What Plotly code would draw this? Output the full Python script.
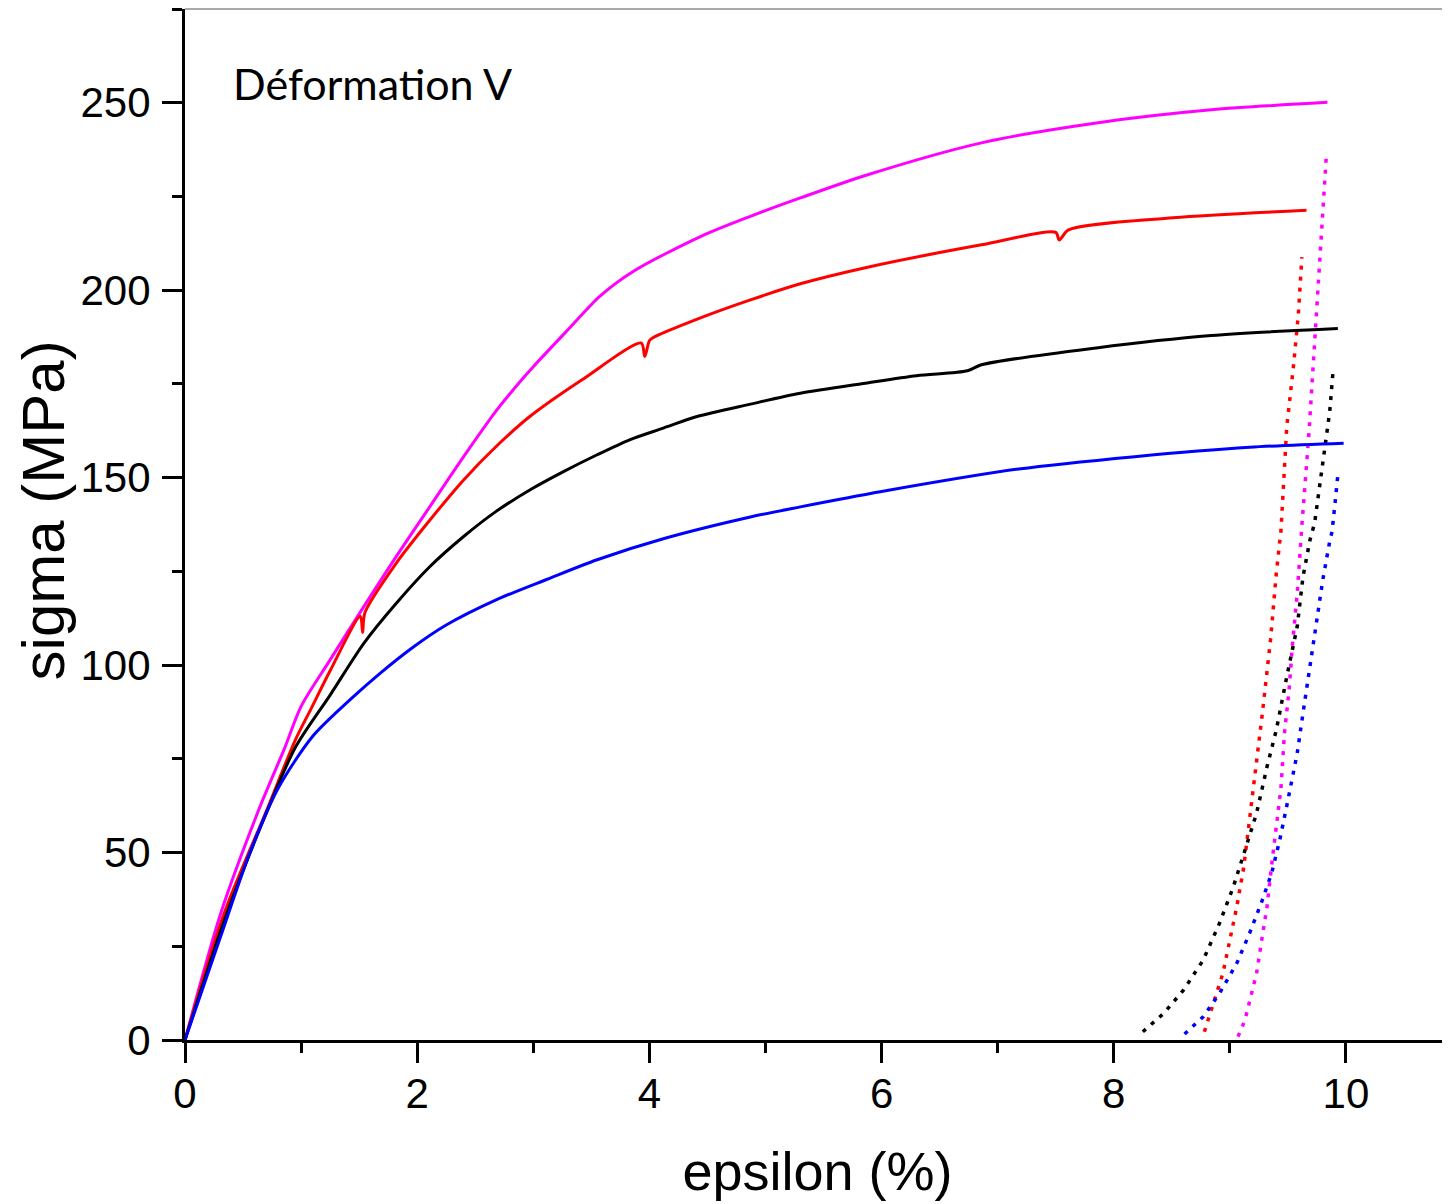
import plotly.graph_objects as go

# loading curves (epsilon %, sigma MPa)
eps_magenta = [0, 0.31, 0.63, 0.86, 1.0, 1.25, 1.54, 1.82, 2.11, 2.40, 2.68, 2.90, 3.0, 3.3,
               3.57, 3.86, 4.44, 4.87, 5.3, 5.86, 6.86, 7.85, 8.84, 9.84]
sig_magenta = [0, 34, 61, 78, 89, 101.4, 115.6, 129, 142.3, 155.6, 167.8, 176.1, 179.6, 189.5,
               198.3, 205.0, 214.3, 219.7, 224.6, 230.6, 239.3, 244.6, 248.1, 250.1]

eps_red = [0, 0.34, 0.70, 0.95, 1.08, 1.25, 1.51, 1.53, 1.55, 1.82, 2.11, 2.40, 2.68, 2.97,
           3.42, 3.93, 3.96, 4.0, 4.03, 4.44, 4.87, 5.30, 5.86, 6.86, 7.50, 7.53, 7.61, 8.51, 9.66]
sig_red = [0, 34, 61, 80, 88, 98.5, 113, 108.7, 114, 127.2, 138.7, 149.4, 158.3, 166.3,
           176.1, 185.9, 182.3, 186.5, 187.3, 192.6, 197.4, 201.7, 206, 212.1, 215.4, 213.4, 216.1, 219.3, 221.3]

eps_black = [0, 0.34, 0.68, 0.95, 1.25, 1.54, 1.82, 2.11, 2.40, 2.68, 2.97, 3.26, 3.55, 3.83,
             4.12, 4.41, 4.87, 5.30, 5.86, 6.3, 6.74, 6.86, 7.85, 8.84, 9.93]
sig_black = [0, 32, 59, 78, 92, 105.8, 116.5, 126.3, 134.3, 141, 146.7, 151.6, 156.1, 160.1,
             163.2, 166.3, 169.6, 172.5, 175.2, 177.2, 178.5, 180.1, 184.6, 187.9, 189.8]

eps_blue = [0, 0.3, 0.56, 0.8, 1.1, 1.42, 1.68, 1.97, 2.25, 2.68, 3.12, 3.55, 4.12, 4.87,
            5.30, 6.0, 7.18, 8.18, 9.17, 9.98]
sig_blue = [0, 27, 50, 67, 81, 90.7, 97.8, 104.9, 110.7, 117.4, 122.9, 128.1, 133.7, 139.5,
            142.2, 146.3, 152.3, 155.6, 158.1, 159.2]

# unloading curves (dotted)
eps_magenta_u = [9.07, 9.13, 9.18, 9.23, 9.27, 9.32, 9.36, 9.40, 9.44, 9.47, 9.51, 9.54, 9.58,
                 9.61, 9.62, 9.68, 9.73, 9.78, 9.83]
sig_magenta_u = [0.9, 5.3, 11.6, 17.8, 25.8, 35.6, 46.7, 56.9, 67.2, 81.8, 93.4, 105.8, 119.2,
                 132.5, 137.2, 161.4, 186.6, 213.2, 235.5]

eps_red_u = [8.78, 8.86, 8.94, 9.0, 9.06, 9.12, 9.17, 9.23, 9.28, 9.35, 9.40, 9.44, 9.49, 9.55,
             9.59, 9.62]
sig_red_u = [2.2, 9.8, 17.8, 26.7, 35.6, 46.2, 58.7, 74.7, 87.2, 106.7, 124.5, 135.9, 163.6,
             180.4, 193.7, 208.8]

eps_black_u = [8.25, 8.43, 8.60, 8.77, 8.91, 9.03, 9.14, 9.23, 9.32, 9.40, 9.49, 9.58, 9.63,
               9.69, 9.73, 9.76, 9.79, 9.82, 9.86, 9.89]
sig_black_u = [2.2, 7.1, 13.3, 21.3, 31.1, 40.9, 51.6, 60.5, 72.9, 82.7, 96.9, 110.3, 123.6,
               133.4, 137.9, 145, 152.1, 159.6, 167.6, 179.0]

eps_blue_u = [8.61, 8.77, 8.91, 9.06, 9.17, 9.27, 9.36, 9.43, 9.50, 9.58, 9.63, 9.69, 9.75,
              9.80, 9.86, 9.88, 9.91, 9.93]
sig_blue_u = [1.6, 6.2, 12.4, 20.5, 28.5, 36.5, 44.5, 53.4, 64, 76.5, 87.2, 99.6, 112.1,
              122.7, 133, 135.6, 144.5, 150.7]

series = [
    ('#FF00FF', eps_magenta, sig_magenta, eps_magenta_u, sig_magenta_u),
    ('#FF0000', eps_red, sig_red, eps_red_u, sig_red_u),
    ('#000000', eps_black, sig_black, eps_black_u, sig_black_u),
    ('#0000FF', eps_blue, sig_blue, eps_blue_u, sig_blue_u),
]

fig = go.Figure()
for color, ex, sy, eu, su in series:
    fig.add_trace(go.Scatter(x=ex, y=sy, mode='lines',
                             line=dict(color=color, width=3, shape='spline', smoothing=0.8),
                             showlegend=False))
    fig.add_trace(go.Scatter(x=eu, y=su, mode='lines',
                             line=dict(color=color, width=3.5, dash='4px,7px'),
                             showlegend=False))

font_family = 'Liberation Sans, Arial, sans-serif'
tick_font = dict(family=font_family, size=42, color='black')

# page body has an 8px margin, so the figure is sized to fill the rest of the window
fig.update_layout(
    width=1442, height=1196,
    margin=dict(l=177, r=0, t=1, b=164),
    plot_bgcolor='white', paper_bgcolor='white',
    xaxis=dict(
        range=[0, 10.896], showgrid=False, zeroline=False, automargin=False,
        showline=True, linecolor='black', linewidth=3,
        ticks='outside', ticklen=20, tickwidth=3, tickcolor='black',
        dtick=2, tick0=0, tickfont=tick_font, ticklabelstandoff=-5,
        minor=dict(ticks='outside', ticklen=10, tickwidth=3, tickcolor='black', dtick=1),
        title=dict(text='epsilon (%)', font=dict(family=font_family, size=54, color='black'),
                   standoff=36),
    ),
    yaxis=dict(
        range=[0, 275], showgrid=False, zeroline=False, automargin=False,
        showline=True, linecolor='black', linewidth=3,
        ticks='outside', ticklen=20, tickwidth=3, tickcolor='black',
        dtick=50, tick0=0, tickfont=tick_font, ticklabelstandoff=3,
        minor=dict(ticks='outside', ticklen=10, tickwidth=3, tickcolor='black', dtick=25),
    ),
    shapes=[dict(type='line', xref='paper', yref='paper', x0=0, x1=1, y0=1, y1=1,
                 line=dict(color='#555555', width=1))],
    annotations=[
        dict(text='Déformation V', xref='paper', yref='paper', x=0.036, y=0.928,
             xanchor='left', yanchor='middle', showarrow=False,
             font=dict(family='Lato, Open Sans, sans-serif', size=43, color='black')),
        # y axis title, placed by hand (sits a bit above the axis middle)
        dict(text='sigma (MPa)', xref='paper', yref='paper', x=-0.112, y=0.514,
             xanchor='center', yanchor='middle', textangle=-90, showarrow=False,
             font=dict(family=font_family, size=60, color='black')),
    ],
)

fig.write_html('out.html')
